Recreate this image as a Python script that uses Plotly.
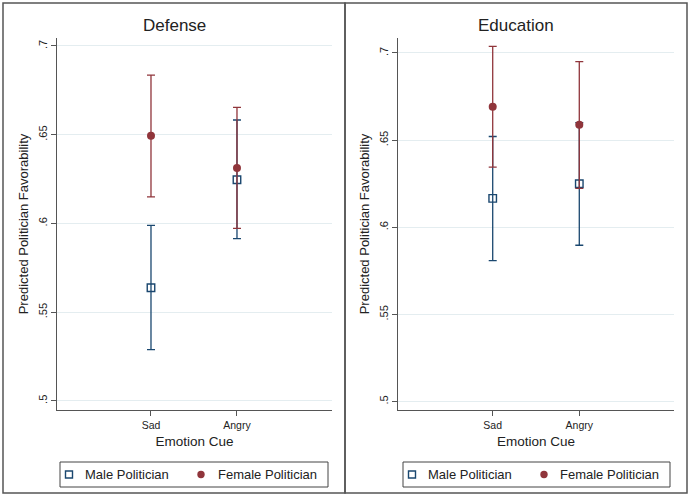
import plotly.graph_objects as go

categories = ["Sad", "Angry"]
cat_pos = [1, 2]

defense_male = [0.5638, 0.6246]
defense_male_lo = [0.5289, 0.5915]
defense_male_hi = [0.5989, 0.6583]
defense_female = [0.6494, 0.6312]
defense_female_lo = [0.6150, 0.5972]
defense_female_hi = [0.6836, 0.6654]

education_male = [0.6166, 0.6250]
education_male_lo = [0.5809, 0.5897]
education_male_hi = [0.6521, 0.6600]
education_female = [0.6692, 0.6589]
education_female_lo = [0.6345, 0.6223]
education_female_hi = [0.7038, 0.6950]

y_ticks = [0.5, 0.55, 0.6, 0.65, 0.7]
y_ticktext = [".5", ".55", ".6", ".65", ".7"]

series_names = ["Male Politician", "Female Politician"]
panel_titles = ["Defense", "Education"]

MALE = "#1A476F"
FEMALE = "#90353B"
FONT = "Arial, Liberation Sans, sans-serif"
W, H = 690, 498

fig = go.Figure()


def add_pair(xa, ya, m, mlo, mhi, f, flo, fhi):
    fig.add_trace(go.Scatter(
        x=cat_pos, y=m, mode="markers", name=series_names[0],
        xaxis=xa, yaxis=ya, showlegend=False,
        marker=dict(symbol="square-open", size=7.5, color=MALE, line=dict(width=1.4, color=MALE)),
        error_y=dict(type="data", symmetric=False,
                     array=[h - v for h, v in zip(mhi, m)],
                     arrayminus=[v - l for v, l in zip(m, mlo)],
                     color=MALE, thickness=1.3, width=4),
    ))
    fig.add_trace(go.Scatter(
        x=cat_pos, y=f, mode="markers", name=series_names[1],
        xaxis=xa, yaxis=ya, showlegend=False,
        marker=dict(symbol="circle", size=8, color=FEMALE),
        error_y=dict(type="data", symmetric=False,
                     array=[h - v for h, v in zip(fhi, f)],
                     arrayminus=[v - l for v, l in zip(f, flo)],
                     color=FEMALE, thickness=1.3, width=4),
    ))


add_pair("x", "y", defense_male, defense_male_lo, defense_male_hi,
         defense_female, defense_female_lo, defense_female_hi)
add_pair("x2", "y2", education_male, education_male_lo, education_male_hi,
         education_female, education_female_lo, education_female_hi)


def px_x(p):
    return p / W


def px_y(p):
    return 1 - p / H


axis_common = dict(showline=True, linecolor="#555555", linewidth=1.2, ticks="outside",
                   ticklen=5, tickcolor="#555555", tickfont=dict(family=FONT, size=10.5, color="#222"),
                   zeroline=False)

xcommon = dict(axis_common, tickvals=cat_pos, ticktext=categories, showgrid=False,
               title=dict(text="Emotion Cue", font=dict(family=FONT, size=13.5, color="#222"), standoff=6))
ycommon = dict(axis_common, tickvals=y_ticks, ticktext=y_ticktext, tickangle=-90,
               showgrid=True, gridcolor="#E4EDF0", gridwidth=1,
               tickfont=dict(family=FONT, size=11, color="#222"),
               title=dict(text="Predicted Politician Favorability",
                          font=dict(family=FONT, size=13, color="#222"), standoff=4))

annotations = []
shapes = [
    dict(type="rect", xref="paper", yref="paper", x0=px_x(3), x1=px_x(345), y0=px_y(493), y1=px_y(3),
         line=dict(color="#555555", width=1.5)),
    dict(type="rect", xref="paper", yref="paper", x0=px_x(345), x1=px_x(687), y0=px_y(493), y1=px_y(3),
         line=dict(color="#555555", width=1.5)),
]

# panel titles
for title, cx in zip(panel_titles, [174, 516]):
    annotations.append(dict(text=title, x=px_x(cx), y=px_y(26), xref="paper", yref="paper",
                            xanchor="center", yanchor="middle", showarrow=False,
                            font=dict(family=FONT, size=17, color="#222")))

# legends (one per panel)
legend_boxes = [(60, 328), (403, 670)]
legend_items = [[(69, 83), (201, 216)], [(412, 426), (544, 558)]]
ly0, ly1 = 462, 487
lyc = (ly0 + ly1) / 2
for (bx0, bx1), items in zip(legend_boxes, legend_items):
    shapes.append(dict(type="rect", xref="paper", yref="paper", x0=px_x(bx0), x1=px_x(bx1),
                       y0=px_y(ly1), y1=px_y(ly0), line=dict(color="#444444", width=1),
                       fillcolor="white", layer="below"))
    (mx, tx), (fx, ftx) = items
    shapes.append(dict(type="rect", xref="paper", yref="paper", x0=px_x(mx - 3.5), x1=px_x(mx + 3.5),
                       y0=px_y(lyc + 3.5), y1=px_y(lyc - 3.5), line=dict(color=MALE, width=1.4)))
    shapes.append(dict(type="circle", xref="paper", yref="paper", x0=px_x(fx - 3.7), x1=px_x(fx + 3.7),
                       y0=px_y(lyc + 3.7), y1=px_y(lyc - 3.7), line=dict(color=FEMALE, width=0),
                       fillcolor=FEMALE))
    annotations.append(dict(text=series_names[0], x=px_x(tx), y=px_y(lyc), xref="paper", yref="paper",
                            xanchor="left", yanchor="middle", showarrow=False,
                            font=dict(family=FONT, size=13, color="#222")))
    annotations.append(dict(text=series_names[1], x=px_x(ftx), y=px_y(lyc), xref="paper", yref="paper",
                            xanchor="left", yanchor="middle", showarrow=False,
                            font=dict(family=FONT, size=13, color="#222")))

fig.update_layout(
    xaxis=dict(xcommon, domain=[px_x(57), px_x(332)], range=[-0.093, 3.105], anchor="y"),
    yaxis=dict(ycommon, domain=[px_y(410), px_y(38)], range=[0.4949, 0.7045], anchor="x"),
    xaxis2=dict(xcommon, domain=[px_x(398), px_x(674)], range=[-0.094, 3.094], anchor="y2"),
    yaxis2=dict(ycommon, domain=[px_y(410), px_y(38)], range=[0.4952, 0.7086], anchor="x2"),
    width=W, height=H,
    margin=dict(l=0, r=0, t=0, b=0),
    paper_bgcolor="white", plot_bgcolor="white",
    font=dict(family=FONT, color="#222"),
    showlegend=False,
    annotations=annotations,
    shapes=shapes,
)

fig.write_html("out.html")
